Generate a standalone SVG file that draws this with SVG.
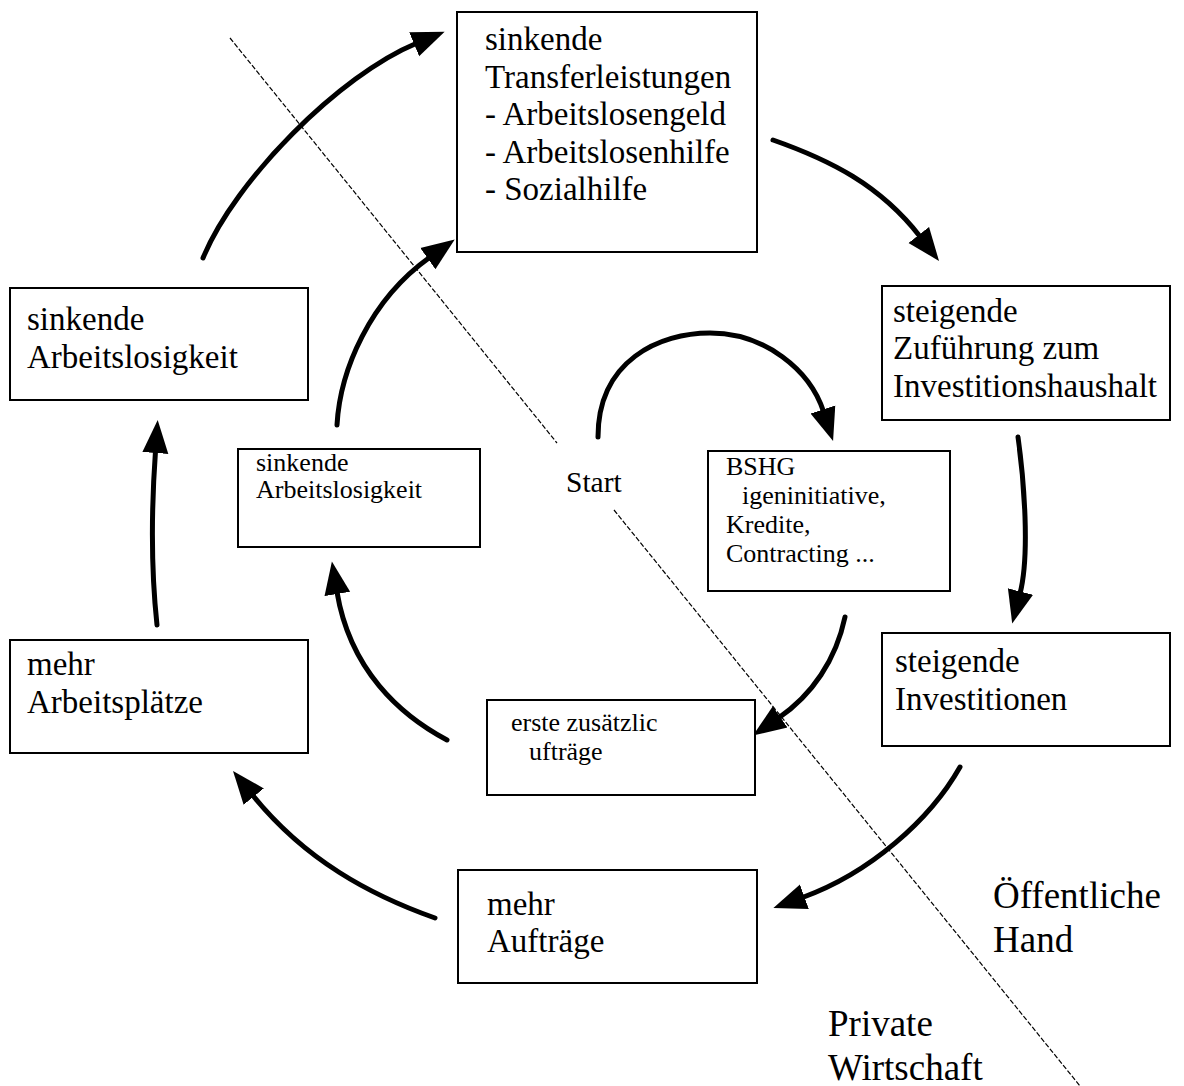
<svg xmlns="http://www.w3.org/2000/svg" width="1184" height="1086" viewBox="0 0 1184 1086">
  <style>
    .box { fill: #fff; stroke: #000; stroke-width: 2; }
    .big { font-family: "Liberation Serif", "Times New Roman", serif; font-size: 33px; fill: #000; }
    .small { font-family: "Liberation Serif", "Times New Roman", serif; font-size: 26px; fill: #000; }
    .label { font-family: "Liberation Serif", "Times New Roman", serif; font-size: 37px; fill: #000; }
    .arrow { fill: none; stroke: #000; stroke-width: 5; stroke-linecap: round; marker-end: url(#head); }
    .divider { fill: none; stroke: #000; stroke-width: 1.2; stroke-dasharray: 5 2; }
  </style>
  <defs>
    <marker id="head" markerUnits="userSpaceOnUse" markerWidth="34" markerHeight="28" viewBox="0 0 34 28" refX="2" refY="14" orient="auto">
      <path d="M0,1 L33,14 L0,27 Z" fill="#000"/>
    </marker>
  </defs>
  <rect width="1184" height="1086" fill="#fff"/>

  <!-- dashed boundary between public and private sector -->
  <g id="divider">
    <line class="divider" x1="230" y1="38" x2="557" y2="443"/>
    <line class="divider" x1="614" y1="510" x2="1080" y2="1086"/>
  </g>

  <!-- outer and inner cycle arrows -->
  <g id="connectors">
    <path class="arrow" d="M203,258 C235,180 340,75 416,43.5"/>
    <path class="arrow" d="M773,140 C830,160 880,185 920,236.5"/>
    <path class="arrow" d="M1018,437 C1024,480 1030,555 1020,593.5"/>
    <path class="arrow" d="M960,767 C930,820 870,873 802.5,897.5"/>
    <path class="arrow" d="M435,918 C370,895 305,860 252.5,795"/>
    <path class="arrow" d="M157,625 C150,560 152,500 155.5,451"/>
    <path class="arrow" d="M598,437 C598,360 660,333 710,333 C765,333 810,370 823.5,411.5"/>
    <path class="arrow" d="M845,617 C836,660 812,695 778.5,718"/>
    <path class="arrow" d="M447,740 C400,715 350,670 337,592"/>
    <path class="arrow" d="M337,425 C340,370 370,300 429.5,257.5"/>
  </g>

  <g id="node-transfer">
    <rect class="box" x="457" y="12" width="300" height="240"/>
    <text class="big" x="485" y="50">sinkende</text>
    <text class="big" x="485" y="88">Transferleistungen</text>
    <text class="big" x="485" y="125">- Arbeitslosengeld</text>
    <text class="big" x="485" y="163">- Arbeitslosenhilfe</text>
    <text class="big" x="485" y="200">- Sozialhilfe</text>
  </g>

  <g id="node-zufuehrung">
    <rect class="box" x="882" y="286" width="288" height="134"/>
    <text class="big" x="893" y="322">steigende</text>
    <text class="big" x="893" y="359">Zuführung zum</text>
    <text class="big" x="893" y="397">Investitionshaushalt</text>
  </g>

  <g id="node-investitionen">
    <rect class="box" x="882" y="633" width="288" height="113"/>
    <text class="big" x="895" y="672">steigende</text>
    <text class="big" x="895" y="710">Investitionen</text>
  </g>

  <g id="node-auftraege">
    <rect class="box" x="458" y="870" width="299" height="113"/>
    <text class="big" x="487" y="915">mehr</text>
    <text class="big" x="487" y="952">Aufträge</text>
  </g>

  <g id="node-arbeitsplaetze">
    <rect class="box" x="10" y="640" width="298" height="113"/>
    <text class="big" x="27" y="675">mehr</text>
    <text class="big" x="27" y="713">Arbeitsplätze</text>
  </g>

  <g id="node-arbeitslosigkeit">
    <rect class="box" x="10" y="288" width="298" height="112"/>
    <text class="big" x="27" y="330">sinkende</text>
    <text class="big" x="27" y="368">Arbeitslosigkeit</text>
  </g>

  <g id="node-arbeitslosigkeit-inner">
    <rect class="box" x="238" y="449" width="242" height="98"/>
    <text class="small" x="256" y="471">sinkende</text>
    <text class="small" x="256" y="498">Arbeitslosigkeit</text>
  </g>

  <g id="node-bshg">
    <rect class="box" x="708" y="451" width="242" height="140"/>
    <text class="small" x="726" y="475">BSHG</text>
    <text class="small" x="742" y="504">igeninitiative,</text>
    <text class="small" x="726" y="533">Kredite,</text>
    <text class="small" x="726" y="562">Contracting ...</text>
  </g>

  <g id="node-erste">
    <rect class="box" x="487" y="700" width="268" height="95"/>
    <text class="small" x="511" y="731">erste zusätzlic</text>
    <text class="small" x="529" y="760">ufträge</text>
  </g>

  <g id="node-start">
    <text class="small" x="566" y="492" style="font-size:29.5px">Start</text>
  </g>

  <g id="sector-labels">
    <text class="label" x="993" y="908">Öffentliche</text>
    <text class="label" x="993" y="952">Hand</text>
    <text class="label" x="828" y="1036">Private</text>
    <text class="label" x="828" y="1080">Wirtschaft</text>
  </g>
</svg>
